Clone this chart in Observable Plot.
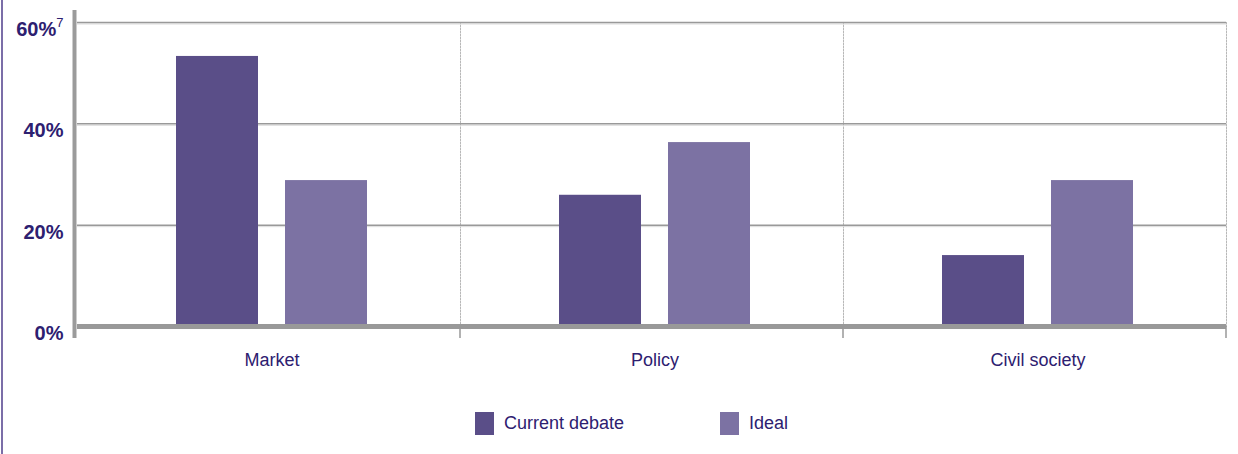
<!DOCTYPE html>
<html><head><meta charset="utf-8">
<script src="https://cdn.jsdelivr.net/npm/d3@7"></script>
<script src="https://cdn.jsdelivr.net/npm/@observablehq/plot@0.6"></script>
<style>
body{margin:0;background:#fff;font-family:"Liberation Sans",Arial,sans-serif;}
#wrap{position:relative;width:1238px;height:454px;overflow:hidden;}
#bar{position:absolute;left:1px;top:0;width:2px;height:454px;background:#7b6ea8;}
#chart{position:absolute;left:0;top:0;}
#legend{position:absolute;top:412px;left:475px;display:flex;align-items:center;font-size:18px;color:#2d2070;}
#legend .sw{width:19px;height:23px;display:inline-block;margin-right:10px;}
#legend .item{display:flex;align-items:center;}
</style></head><body>
<div id="wrap"><div id="bar"></div><div id="chart"></div><div id="legend"></div></div>
<script>
const categories = ["Market", "Policy", "Civil society"];
const seriesNames = ["Current debate", "Ideal"];
const currentDebate = [53.3, 25.9, 14.0];
const ideal = [28.8, 36.3, 28.8];
const yTicks = [0, 20, 40, 60];
const colors = ["#5a4e88", "#7c72a3"];

const data = [];
categories.forEach((c, i) => {
  data.push({category: c, series: seriesNames[0], value: currentDebate[i]});
  data.push({category: c, series: seriesNames[1], value: ideal[i]});
});

const textColor = "#2d2070";

const plot = Plot.plot({
  width: 1238,
  height: 390,
  marginLeft: 76,
  marginRight: 11,
  marginTop: 22,
  marginBottom: 64,
  style: {fontFamily: '"Liberation Sans", Arial, sans-serif', background: "transparent"},
  fx: {domain: categories, padding: 0},
  x: {domain: seriesNames, paddingInner: 0.245, paddingOuter: 0.867, axis: null},
  y: {domain: [0, 60], axis: null},
  color: {domain: seriesNames, range: colors},
  marks: [
    Plot.frame({anchor: "right", stroke: "#b8b8b8", strokeDasharray: "1.5,1.5", strokeWidth: 1}),
    Plot.ruleY(yTicks.filter(d => d > 0), {stroke: "#dcdcdc", strokeWidth: 1, dy: 1.5}),
    Plot.ruleY(yTicks.filter(d => d > 0), {stroke: "#999", strokeWidth: 1.5}),
    Plot.barY(data, {fx: "category", x: "series", y: "value", fill: "series", dx: 3}),
    Plot.ruleY([0], {stroke: "#999", strokeWidth: 5}),
    Plot.axisY({ticks: yTicks, tickSize: 0, tickPadding: 14, tickFormat: d => d + "%",
      fontWeight: "bold", fontSize: 20, fill: textColor, dy: 7, label: null}),
    Plot.axisFx({anchor: "bottom", tickSize: 0, tickPadding: 27, fontSize: 18, fill: textColor, label: null, dx: 3})
  ]
});
document.getElementById("chart").appendChild(plot);

// axis decorations derived from the plot's scales
const sy = plot.scale("y"), sfx = plot.scale("fx");
const svg = d3.select(plot);
const y0 = sy.apply(0), yTop = sy.apply(60);
const left = sfx.range[0];
svg.append("line").attr("x1", left - 1.5).attr("x2", left - 1.5)
  .attr("y1", yTop - 12).attr("y2", y0 + 12).attr("stroke", "#9b9b9b").attr("stroke-width", 4);
categories.forEach(c => {
  const xr = sfx.apply(c) + sfx.bandwidth;
  svg.append("line").attr("x1", xr).attr("x2", xr).attr("y1", y0).attr("y2", y0 + 12)
    .attr("stroke", "#999").attr("stroke-width", 1.5);
});
// footnote marker on top tick label
svg.selectAll("text").each(function() {
  if (this.textContent === "60%") {
    d3.select(this).append("tspan").attr("font-weight", "normal").attr("font-size", 13)
      .attr("dy", "-0.7em").text("7");
  }
});

// legend
const legend = d3.select("#legend");
seriesNames.forEach((s, i) => {
  const it = legend.append("div").attr("class", "item").style("margin-right", i === 0 ? "96px" : "0");
  it.append("span").attr("class", "sw").style("background", colors[i]);
  it.append("span").text(s);
});
</script>
</body></html>
